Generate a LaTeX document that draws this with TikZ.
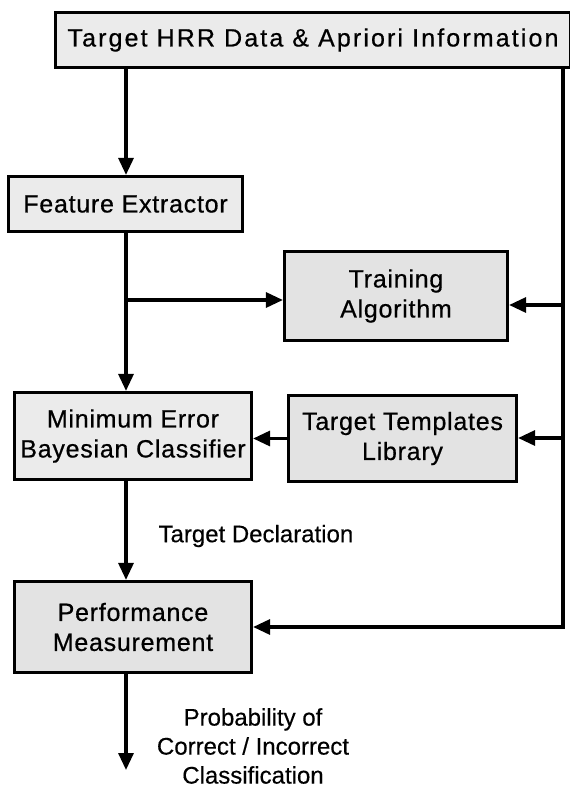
\documentclass[tikz,border=0pt]{standalone}
\usepackage{fontspec}
\setmainfont{Liberation Sans}
\newfontfamily\boxfont[LetterSpace=3,FakeBold=0.6]{Liberation Sans}
\newfontfamily\topfont[LetterSpace=8.5,FakeBold=0.6]{Liberation Sans}
\newfontfamily\lblfont[FakeBold=0.4]{Liberation Sans}
\usetikzlibrary{arrows.meta}
\begin{document}
\begin{tikzpicture}[x=1pt,y=-1pt,
  blk/.style={draw=black, line width=3.2pt, fill=black!8, inner sep=0pt, align=center,
              font=\boxfont\fontsize{25}{30}\selectfont},
  darkblk/.style={blk, fill=black!11},
  conn/.style={line width=3.2pt},
  arr/.style={conn,-{Triangle[length=17pt,width=15pt]}},
  lbl/.style={align=center, font=\lblfont\fontsize{24}{29}\selectfont}]
\useasboundingbox (0,0) rectangle (570,790);
% blocks
\node[blk, minimum width=515pt, minimum height=55pt, font=\topfont\fontsize{25}{30}\selectfont] (top) at (313,40) {Target HRR Data \& Apriori Information};
\node[blk, minimum width=234pt, minimum height=55pt] (feat) at (125.5,204) {Feature Extractor};
\node[darkblk, minimum width=223pt, minimum height=89pt] (train) at (396,296) {Training\\Algorithm};
\node[darkblk, minimum width=228pt, minimum height=86pt] (tmpl) at (402.5,438.5) {Target Templates\\Library};
\node[blk, minimum width=237pt, minimum height=87pt] (minerr) at (133,436) {Minimum Error\\Bayesian Classifier};
\node[darkblk, minimum width=237pt, minimum height=91pt] (perf) at (133,627) {Performance\\Measurement};
% labels
\node[lbl, anchor=west] (td) at (155,536) {Target Declaration};
\node[lbl] (prob) at (253,746) {Probability of\\Correct / Incorrect\\Classification};
% helper coordinates
\coordinate (vx) at (126,0);
\coordinate (rl) at (563,0);
\coordinate (br) at (126,300);
\coordinate (t1) at (563,305);
\coordinate (t2) at (563,438);
\coordinate (endpt) at (126,770);
% connectors
\draw[arr] (top.south -| vx) -- (feat.north -| vx);
\draw[arr] (feat.south -| vx) -- (minerr.north -| vx);
\draw[arr] (br) -- (br -| train.west);
\draw[arr] (top.south -| rl) |- (perf.east);
\draw[arr] (t1) -- (t1 -| train.east);
\draw[arr] (t2) -- (t2 -| tmpl.east);
\draw[arr] (tmpl.west) -- (tmpl.west -| minerr.east);
\draw[arr] (minerr.south -| vx) -- (perf.north -| vx);
\draw[arr] (perf.south -| vx) -- (endpt);
\end{tikzpicture}
\end{document}
